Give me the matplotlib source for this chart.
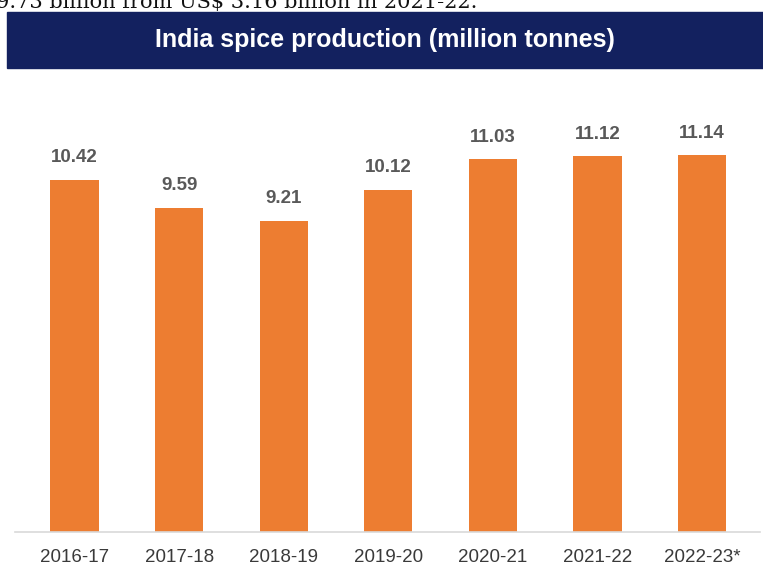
import matplotlib.pyplot as plt
from matplotlib.patches import Rectangle

years = ["2016-17", "2017-18", "2018-19", "2019-20", "2020-21", "2021-22", "2022-23*"]
production = [10.42, 9.59, 9.21, 10.12, 11.03, 11.12, 11.14]

W, H = 763, 566
fig = plt.figure(figsize=(W / 100, H / 100), dpi=100)
fig.patch.set_facecolor("white")

# axes placed in pixel terms: baseline at y=532, spans x 15..760
left, right = 15, 760
base, top = 532, 100
ax = fig.add_axes([left / W, (H - base) / H, (right - left) / W, (base - top) / H])

x = list(range(len(years)))
ax.bar(x, production, width=0.46, color="#ed7d31")
for xi, v in zip(x, production):
    ax.text(xi, v + 0.4, f"{v:.2f}", ha="center", va="bottom",
            fontsize=13.5, fontweight="bold", color="#595959", family="Liberation Sans")

ax.set_xlim(-0.569, 6.554)
ax.set_ylim(0, (base - top) / 33.8)
ax.set_xticks(x)
ax.set_xticklabels(years, fontsize=13.5, color="#3a3a3a", family="Liberation Sans")
ax.tick_params(axis="x", length=0, pad=12)
ax.set_yticks([])
for s in ["top", "left", "right"]:
    ax.spines[s].set_visible(False)
ax.spines["bottom"].set_color("#d9d9d9")
ax.spines["bottom"].set_linewidth(1.2)

# title banner
fig.patches.append(Rectangle((7 / W, (H - 68) / H), (W - 7) / W, 56 / H,
                             transform=fig.transFigure, color="#13215f", zorder=0))
fig.text(385 / W, (H - 40) / H, "India spice production (million tonnes)",
         ha="center", va="center", color="white", fontsize=18, fontweight="bold",
         family="Liberation Sans")

# cut-off line of text above the banner
fig.text(-4 / W, (H - 8) / H, "9.73 billion from US$ 3.16 billion in 2021-22.",
         ha="left", va="baseline", fontsize=15, color="#111111", family="DejaVu Serif")

fig.savefig("out.png", dpi=100)
